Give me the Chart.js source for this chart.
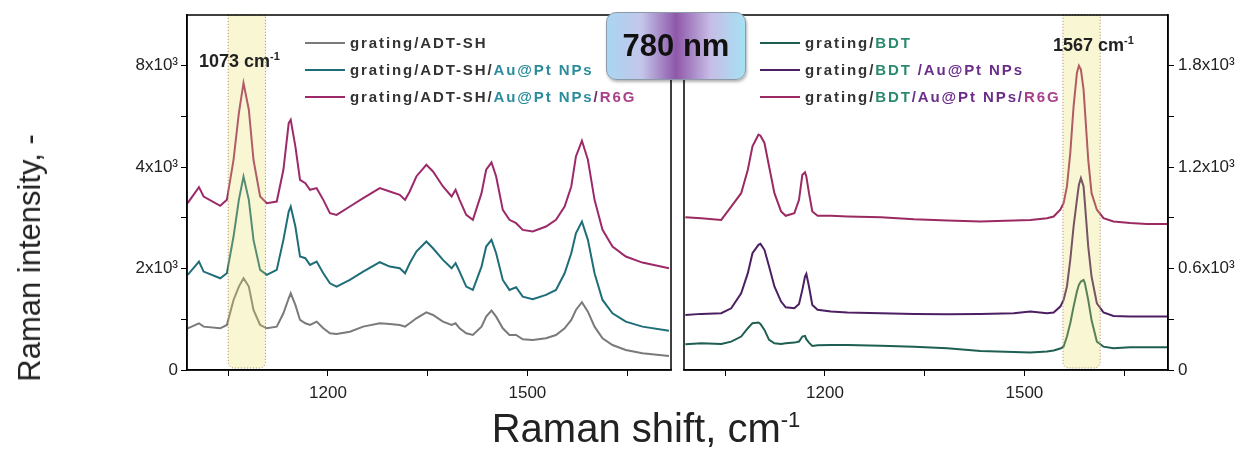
<!DOCTYPE html>
<html>
<head>
<meta charset="utf-8">
<script src="https://cdn.jsdelivr.net/npm/chart.js@4.4.1/dist/chart.umd.min.js"></script>
<style>
body{margin:0;background:#fff;width:1253px;height:450px;position:relative;overflow:hidden;font-family:"Liberation Sans",Arial,sans-serif;color:#222}
canvas{position:absolute;top:0}
#left{left:0}
#right{left:680px}
.txt{position:absolute;white-space:nowrap}
.legend{position:absolute;font-weight:bold;font-size:15px;letter-spacing:1.9px;line-height:15px;white-space:nowrap}
.legend span.ln{display:inline-block;width:40px;height:2px;vertical-align:middle;margin-right:5px;margin-top:-2px}
#laser{position:absolute;left:606px;top:12px;width:138px;height:66px;border:1px solid #8a9aa8;border-radius:10px;
 background:linear-gradient(to right,#a9d6f2 0%,#c3c6ea 25%,#8f58aa 50%,#c6bde6 75%,#a6e2f4 100%);
 box-shadow:1px 2px 3px rgba(0,0,0,0.3);font-family:"Liberation Sans Narrow","Liberation Sans",Arial,sans-serif;
 font-weight:bold;font-size:31px;line-height:66px;text-align:center;color:#111}
</style>
</head>
<body>
<canvas id="left" width="680" height="450"></canvas>
<canvas id="right" width="573" height="450"></canvas>
<div id="laser">780 nm</div>
<div id="legendLeft"></div>
<div id="legendRight"></div>
<div class="txt" style="left:199px;top:50px;font-weight:bold;font-size:18px">1073 cm<sup style="font-size:11px">-1</sup></div>
<div class="txt" style="left:1053px;top:34px;font-weight:bold;font-size:18px">1567 cm<sup style="font-size:11px">-1</sup></div>
<div class="txt" style="left:30px;top:258px;transform:translate(-50%,-50%) rotate(-90deg);font-size:31px">Raman intensity, -</div>
<div class="txt" style="left:646px;top:428px;transform:translate(-50%,-50%);font-size:40px">Raman shift, cm<sup style="font-size:22px">-1</sup></div>
<script>
// x ticks shared by both panels
const xTickValues = [1050, 1200, 1350, 1500, 1650];
const xTickLabels = ['', '1200', '', '1500', ''];

// left panel (ADT-SH) - intensity axis as drawn in the figure
const leftTickValues = [0, 1000, 2000, 3000, 4000, 5000, 6000];
const leftTickLabels = ['0', '', '2x10³', '', '4x10³', '', '8x10³'];
const leftShift = [989,1006,1013,1038,1048,1058,1066,1073,1081,1088,1098,1108,1123,1133,1141,1144,1151,1158,1166,1173,1183,1193,1203,1213,1233,1253,1278,1293,1308,1316,1323,1333,1348,1358,1373,1386,1392,1398,1408,1418,1431,1438,1446,1453,1463,1473,1483,1493,1508,1528,1543,1556,1566,1573,1582,1591,1601,1613,1628,1648,1673,1713];
const adtSH = [822,921,855,822,888,1381,1645,1809,1645,1184,888,822,855,1118,1414,1513,1283,987,921,888,954,822,723,710,756,855,921,908,888,855,921,1020,1138,1085,954,888,921,822,723,690,855,1052,1171,1052,822,690,690,605,592,625,690,822,987,1184,1336,1151,855,625,493,394,329,276];
const adtAu = [1875,2138,1941,1809,1908,2632,3355,3816,3355,2566,1974,1875,1974,2566,3125,3224,2829,2237,2204,2072,2138,1908,1710,1645,1776,1941,2125,2039,2006,1908,2105,2335,2533,2401,2171,2006,2105,1941,1645,1579,2039,2434,2566,2303,1776,1579,1631,1447,1395,1480,1579,1908,2303,2697,2928,2566,1908,1381,1118,954,855,776];
const adtR6G = [3290,3605,3421,3237,3355,4145,5066,5658,5132,4145,3421,3290,3322,3948,4869,4935,4408,3750,3684,3553,3586,3355,3092,3059,3224,3388,3586,3520,3454,3355,3520,3816,4046,3915,3619,3421,3553,3355,3059,2961,3487,3948,4092,3816,3158,2961,2895,2763,2730,2829,2961,3224,3619,4211,4520,4145,3355,2763,2434,2237,2118,2007];
const leftBand = [1050, 1106];

// right panel (BDT)
const rightTickValues = [0, 300, 600, 900, 1200, 1500, 1800];
const rightTickLabels = ['0', '', '0.6x10³', '', '1.2x10³', '', '1.8x10³'];
const rightShift = [990,1014,1044,1059,1074,1084,1091,1100,1103,1109,1116,1124,1134,1141,1154,1161,1166,1170,1172,1176,1181,1189,1209,1234,1284,1334,1384,1434,1484,1509,1534,1544,1554,1559,1564,1569,1574,1579,1582,1585,1589,1591,1596,1601,1609,1619,1634,1659,1684,1715];
const bdt = [152,158,154,168,198,247,277,281,273,237,178,158,154,158,162,168,198,202,182,162,142,146,148,148,144,138,129,113,107,103,109,115,127,138,198,277,375,464,504,523,533,513,415,296,168,138,129,134,134,134];
const bdtAu = [326,332,336,365,454,573,691,740,746,711,612,494,405,371,365,391,474,553,569,494,385,356,346,340,336,332,330,332,336,346,336,340,375,415,494,652,849,1007,1096,1135,1086,987,731,553,395,340,320,316,316,316];
const bdtR6G = [904,898,888,967,1046,1185,1323,1392,1386,1343,1204,1046,938,912,928,1007,1155,1169,1145,1046,938,912,912,908,904,892,885,879,885,888,898,908,948,987,1086,1283,1560,1757,1800,1777,1658,1540,1244,1046,948,898,879,869,863,863];
const rightBand = [1558, 1614];

const leftNames = [
  [['grating/ADT-SH', '#333']],
  [['grating/ADT-SH/', '#333'], ['Au@Pt NPs', '#2a8c9c']],
  [['grating/ADT-SH/', '#333'], ['Au@Pt NPs', '#2a8c9c'], ['/', '#6a2d6a'], ['R6G', '#a8408a']]
];
const leftColors = ['#7a7a7a', '#1e6d78', '#9c2a6a'];
const rightNames = [
  [['grating/', '#333'], ['BDT', '#2a8a70']],
  [['grating/', '#333'], ['BDT', '#2a8a70'], [' /Au@Pt NPs', '#6a2d8a']],
  [['grating/', '#333'], ['BDT', '#2a8a70'], ['/Au@Pt NPs/', '#6a2d8a'], ['R6G', '#a8408a']]
];
const rightColors = ['#1f5e52', '#4c1f63', '#9b2a62'];

const tickFont = {family: "'Liberation Sans Narrow','Liberation Sans',Arial,sans-serif", size: 17};

function pts(xs, ys){
  return xs.map((x, i) => ({x: x, y: ys[i]}));
}

function buildLegend(id, names, colors, left, top){
  const box = document.getElementById(id);
  names.forEach((row, i) => {
    const d = document.createElement('div');
    d.className = 'legend';
    d.style.left = left + 'px';
    d.style.top = (top + i * 27) + 'px';
    let html = '<span class="ln" style="background:' + colors[i] + '"></span>';
    row.forEach(seg => { html += '<span style="color:' + seg[1] + '">' + seg[0] + '</span>'; });
    d.innerHTML = html;
    box.appendChild(d);
  });
}
buildLegend('legendLeft', leftNames, leftColors, 305, 35);
buildLegend('legendRight', rightNames, rightColors, 760, 35);

// yellow band + frame round the plot area
const framePlugin = {
  id: 'frame',
  afterDatasetsDraw(chart, args, opts){
    const ctx = chart.ctx, a = chart.chartArea, xs = chart.scales.x;
    const x1 = xs.getPixelForValue(opts.band[0]), x2 = xs.getPixelForValue(opts.band[1]);
    ctx.save();
    ctx.beginPath();
    ctx.roundRect(x1, a.top, x2 - x1, a.bottom - a.top - 2, [0, 0, 6, 6]);
    ctx.fillStyle = 'rgba(232,222,100,0.28)';
    ctx.fill();
    ctx.setLineDash([1, 2]);
    ctx.strokeStyle = '#a8844c';
    ctx.lineWidth = 1;
    ctx.stroke();
    ctx.setLineDash([]);
    ctx.strokeStyle = '#000';
    ctx.lineWidth = 1.5;
    ctx.strokeRect(a.left, a.top, a.right - a.left, a.bottom - a.top);
    ctx.restore();
  }
};

function makeChart(id, sets, cfg){
  return new Chart(document.getElementById(id), {
    type: 'line',
    data: {datasets: sets},
    plugins: [framePlugin],
    options: {
      responsive: false,
      animation: false,
      layout: {padding: cfg.padding},
      plugins: {legend: {display: false}, tooltip: {enabled: false}, frame: {band: cfg.band}},
      elements: {point: {radius: 0}, line: {borderWidth: 2, tension: 0}},
      scales: {
        x: {
          type: 'linear', min: 988, max: 1716,
          afterBuildTicks: s => { s.ticks = xTickValues.map(v => ({value: v})); },
          afterFit: s => { s.height = 80; },
          ticks: {padding: 7, color: '#222', font: tickFont,
                  callback: v => xTickLabels[xTickValues.indexOf(v)] || ''},
          grid: {drawOnChartArea: false, tickLength: 6, color: '#000'},
          border: {color: '#000', width: 1.5}
        },
        y: {
          type: 'linear', position: cfg.side, min: 0, max: cfg.max,
          afterBuildTicks: s => { s.ticks = cfg.ticks.map(v => ({value: v})); },
          afterFit: s => { s.width = cfg.width; },
          ticks: {padding: cfg.tickPad, color: '#222', font: tickFont,
                  callback: v => cfg.labels[cfg.ticks.indexOf(v)] || ''},
          grid: {drawOnChartArea: false, tickLength: 6, color: '#000'},
          border: {color: '#000', width: 1.5}
        }
      }
    }
  });
}

makeChart('left', [
  {data: pts(leftShift, adtSH), borderColor: leftColors[0]},
  {data: pts(leftShift, adtAu), borderColor: leftColors[1]},
  {data: pts(leftShift, adtR6G), borderColor: leftColors[2]}
], {padding: {top: 15, right: 9, left: 0, bottom: 0}, side: 'left', max: 7000, width: 187, tickPad: 3,
    ticks: leftTickValues, labels: leftTickLabels, band: leftBand});

makeChart('right', [
  {data: pts(rightShift, bdt), borderColor: rightColors[0]},
  {data: pts(rightShift, bdtAu), borderColor: rightColors[1]},
  {data: pts(rightShift, bdtR6G), borderColor: rightColors[2]}
], {padding: {top: 15, right: 0, left: 4, bottom: 0}, side: 'right', max: 2100, width: 85, tickPad: 4,
    ticks: rightTickValues, labels: rightTickLabels, band: rightBand});
</script>
</body>
</html>
